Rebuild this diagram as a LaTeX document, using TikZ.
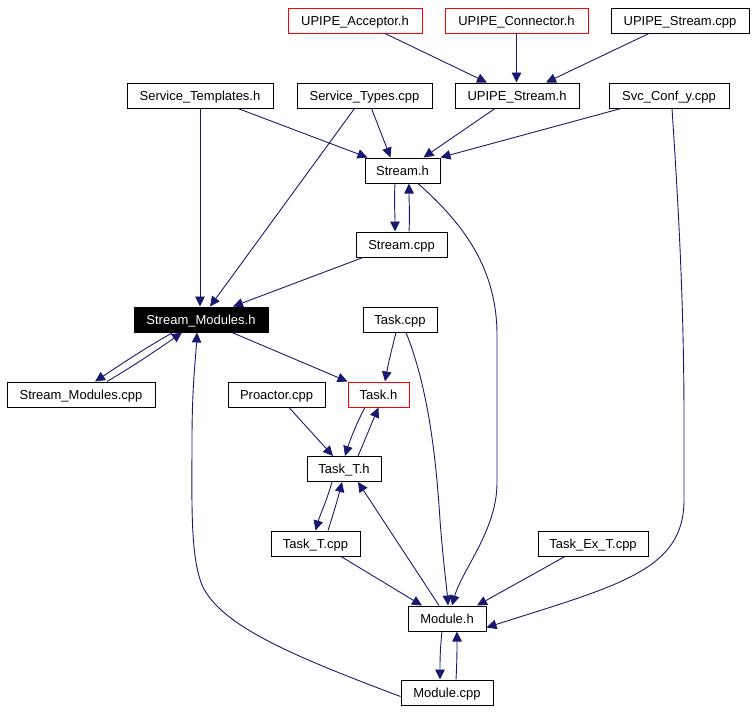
\documentclass[tikz,border=0pt]{standalone}
\usepackage{fontspec}
\setmainfont{Liberation Sans}
\usetikzlibrary{arrows.meta}
\definecolor{edgeblue}{HTML}{191970}
\definecolor{redborder}{HTML}{FF0000}
\tikzset{
  box/.style={draw=black, line width=1pt, minimum height=25pt, inner sep=0pt, text height=9.3pt, text depth=0pt, font=\fontsize{13}{15}\selectfont, fill=white},
  redbox/.style={box, draw=redborder},
  blackbox/.style={box, fill=black, text=white},
  edge/.style={draw=edgeblue, line width=0.9pt, -{Triangle[length=10pt,width=9.5pt]}},
}
\begin{document}
\begin{tikzpicture}[x=1pt,y=-1pt]
\useasboundingbox (0,0) rectangle (756,712);
% nodes
\node[redbox, minimum width=134pt] (acc) at (355,20.5) {UPIPE\_Acceptor.h};
\node[redbox, minimum width=143pt] (con) at (516.5,20.5) {UPIPE\_Connector.h};
\node[box, minimum width=138pt] (upscpp) at (680,20.5) {UPIPE\_Stream.cpp};
\node[box, minimum width=146pt] (stempl) at (200,95.5) {Service\_Templates.h};
\node[box, minimum width=135pt] (stypes) at (364.5,95.5) {Service\_Types.cpp};
\node[box, minimum width=124pt] (upsh) at (517,95.5) {UPIPE\_Stream.h};
\node[box, minimum width=120pt] (svc) at (669,95.5) {Svc\_Conf\_y.cpp};
\node[box, minimum width=75pt] (streamh) at (402.5,170.5) {Stream.h};
\node[box, minimum width=91pt] (streamcpp) at (401.5,244.5) {Stream.cpp};
\node[blackbox, minimum width=134pt] (smh) at (201,319.5) {Stream\_Modules.h};
\node[box, minimum width=74pt] (taskcpp) at (400,319.5) {Task.cpp};
\node[box, minimum width=148pt] (smcpp) at (81,394.5) {Stream\_Modules.cpp};
\node[box, minimum width=97pt] (proactor) at (276.5,394.5) {Proactor.cpp};
\node[redbox, minimum width=61pt] (taskh) at (378.5,394.5) {Task.h};
\node[box, minimum width=74pt] (taskth) at (344,469) {Task\_T.h};
\node[box, minimum width=89pt] (tasktcpp) at (315.5,543.5) {Task\_T.cpp};
\node[box, minimum width=110pt] (taskex) at (593,543.5) {Task\_Ex\_T.cpp};
\node[box, minimum width=78pt] (moduleh) at (447,618.5) {Module.h};
\node[box, minimum width=92pt] (modulecpp) at (447,692.5) {Module.cpp};
% edges
\draw[edge] ([xshift=30pt]acc.south) -- ([xshift=-30pt]upsh.north);
\draw[edge] (con.south) -- (con.south |- upsh.north);
\draw[edge] ([xshift=-31pt]upscpp.south) -- ([xshift=29pt]upsh.north);
\draw[edge] ([xshift=38pt]stempl.south) -- ([xshift=-35pt]streamh.north);
\draw[edge] ([xshift=7pt]stypes.south) -- ([xshift=-12pt]streamh.north);
\draw[edge] ([xshift=-22pt]upsh.south) -- ([xshift=21pt]streamh.north);
\draw[edge] ([xshift=-48pt]svc.south) -- (streamh.north east);
\draw[edge] (stempl.south) -- (stempl.south |- smh.north);
\draw[edge] ([xshift=-10pt]stypes.south) -- ([xshift=9pt]smh.north);
\draw[edge] ([xshift=-38.5pt]streamcpp.south) -- ([xshift=32pt]smh.north);
\draw[edge] ([xshift=-7.5pt]streamh.south) .. controls +(-1,18) and +(0,-18) .. ([xshift=-6.5pt]streamcpp.north);
\draw[edge] ([xshift=7.5pt]streamcpp.north) .. controls +(1,-18) and +(0,18) .. ([xshift=6.5pt]streamh.south);
\draw[edge] ([xshift=15.5pt]streamh.south) .. controls (465,225) and (497,270) .. (497,335)
  -- (497,483) .. controls (497,530) and (462,570) .. ([xshift=5pt]moduleh.north);
\draw[edge] ([xshift=3pt]svc.south) .. controls (678,200) and (684,300) .. (684,420)
  -- (684,500) .. controls (684,570) and (620,585) .. ([yshift=-9pt]moduleh.east);
\draw[edge] ([xshift=-28pt]smh.south) .. controls (145,348) and (120,365) .. ([xshift=14pt]smcpp.north);
\draw[edge] ([xshift=26pt]smcpp.north) .. controls (135,365) and (160,348) .. ([xshift=-19pt]smh.south);
\draw[edge] ([xshift=31pt]smh.south) -- (taskh.north west);
\draw[edge] ([yshift=-4pt]modulecpp.west) .. controls (290,655) and (220,625) .. (202,585)
  .. controls (190,555) and (192,500) .. (192,440)
  .. controls (192,385) and (196,355) .. ([xshift=-4pt]smh.south);
\draw[edge] ([xshift=-4pt]taskcpp.south) .. controls (392,348) and (388,365) .. ([xshift=6.5pt]taskh.north);
\draw[edge] ([xshift=6pt]taskcpp.south) .. controls (425,380) and (435,440) .. (440,520)
  .. controls (443,560) and (447,590) .. ([xshift=1pt]moduleh.north);
\draw[edge] ([xshift=12.5pt]proactor.south) -- ([xshift=-11pt]taskth.north);
\draw[edge] ([xshift=-13.5pt]taskh.south) .. controls (358,420) and (350,440) .. ([xshift=1pt]taskth.north);
\draw[edge] ([xshift=14pt]taskth.north) .. controls (365,440) and (373,420) .. (taskh.south);
\draw[edge] ([xshift=-12pt]taskth.south) .. controls (327,500) and (320,515) .. (tasktcpp.north);
\draw[edge] ([xshift=12.5pt]tasktcpp.north) .. controls (333,515) and (338,498) .. ([xshift=-2pt]taskth.south);
\draw[edge] ([xshift=-8pt]moduleh.north) -- ([xshift=14pt]taskth.south);
\draw[edge] ([xshift=25.5pt]tasktcpp.south) -- ([xshift=-25pt]moduleh.north);
\draw[edge] ([xshift=-28pt]taskex.south) -- ([xshift=30pt]moduleh.north);
\draw[edge] ([xshift=-5pt]moduleh.south) .. controls +(-2,18) and +(0,-18) .. ([xshift=-7pt]modulecpp.north);
\draw[edge] ([xshift=9pt]modulecpp.north) .. controls +(1,-18) and +(0,18) .. ([xshift=10pt]moduleh.south);
\end{tikzpicture}
\end{document}
